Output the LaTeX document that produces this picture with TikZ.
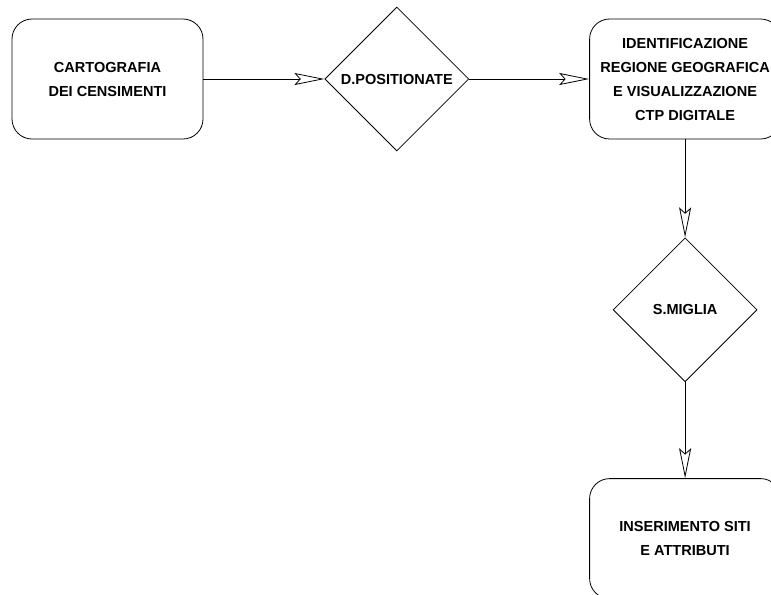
\documentclass[tikz,border=0pt]{standalone}
\usepackage{fontspec}
\setmainfont{Liberation Sans}
\usepackage{xcolor}
\usepackage{tikz}
\usetikzlibrary{positioning, shapes.geometric, arrows.meta}

\begin{document}
\begin{tikzpicture}[
        x=0.75pt, y=-0.75pt,
        font=\fontsize{10.9}{18}\selectfont\bfseries,
        process/.style={rectangle, rounded corners=15pt, draw, line width=0.6pt, minimum width=143.25pt, minimum height=90pt, align=center, inner sep=0pt},
        decision/.style={diamond, draw, line width=0.6pt, minimum width=108pt, minimum height=108pt, inner sep=0pt, align=center},
        flow/.style={line width=0.6pt, -{Stealth[open, length=22.5pt, width=9pt, inset=4pt]}}
    ]
        \useasboundingbox (0,0) rectangle (771,594);
        % Nodes
        \node (carto) [process] at (107.5,79) {CARTOGRAFIA\\DEI CENSIMENTI};
        \node (dpos) [decision, right=90.75pt of carto] {D.POSITIONATE};
        \node (ident) [process, right=90pt of dpos] {IDENTIFICAZIONE\\REGIONE GEOGRAFICA\\E VISUALIZZAZIONE\\CTP DIGITALE};
        \node (smiglia) [decision, below=73.5pt of ident] {S.MIGLIA};
        \node (insert) [process, below=72pt of smiglia] {INSERIMENTO SITI\\E ATTRIBUTI};

        % Arrows
        \draw [flow] (carto) -- (dpos);
        \draw [flow] (dpos) -- (ident);
        \draw [flow] (ident) -- (smiglia);
        \draw [flow] (smiglia) -- (insert);
    \end{tikzpicture}
\end{document}
